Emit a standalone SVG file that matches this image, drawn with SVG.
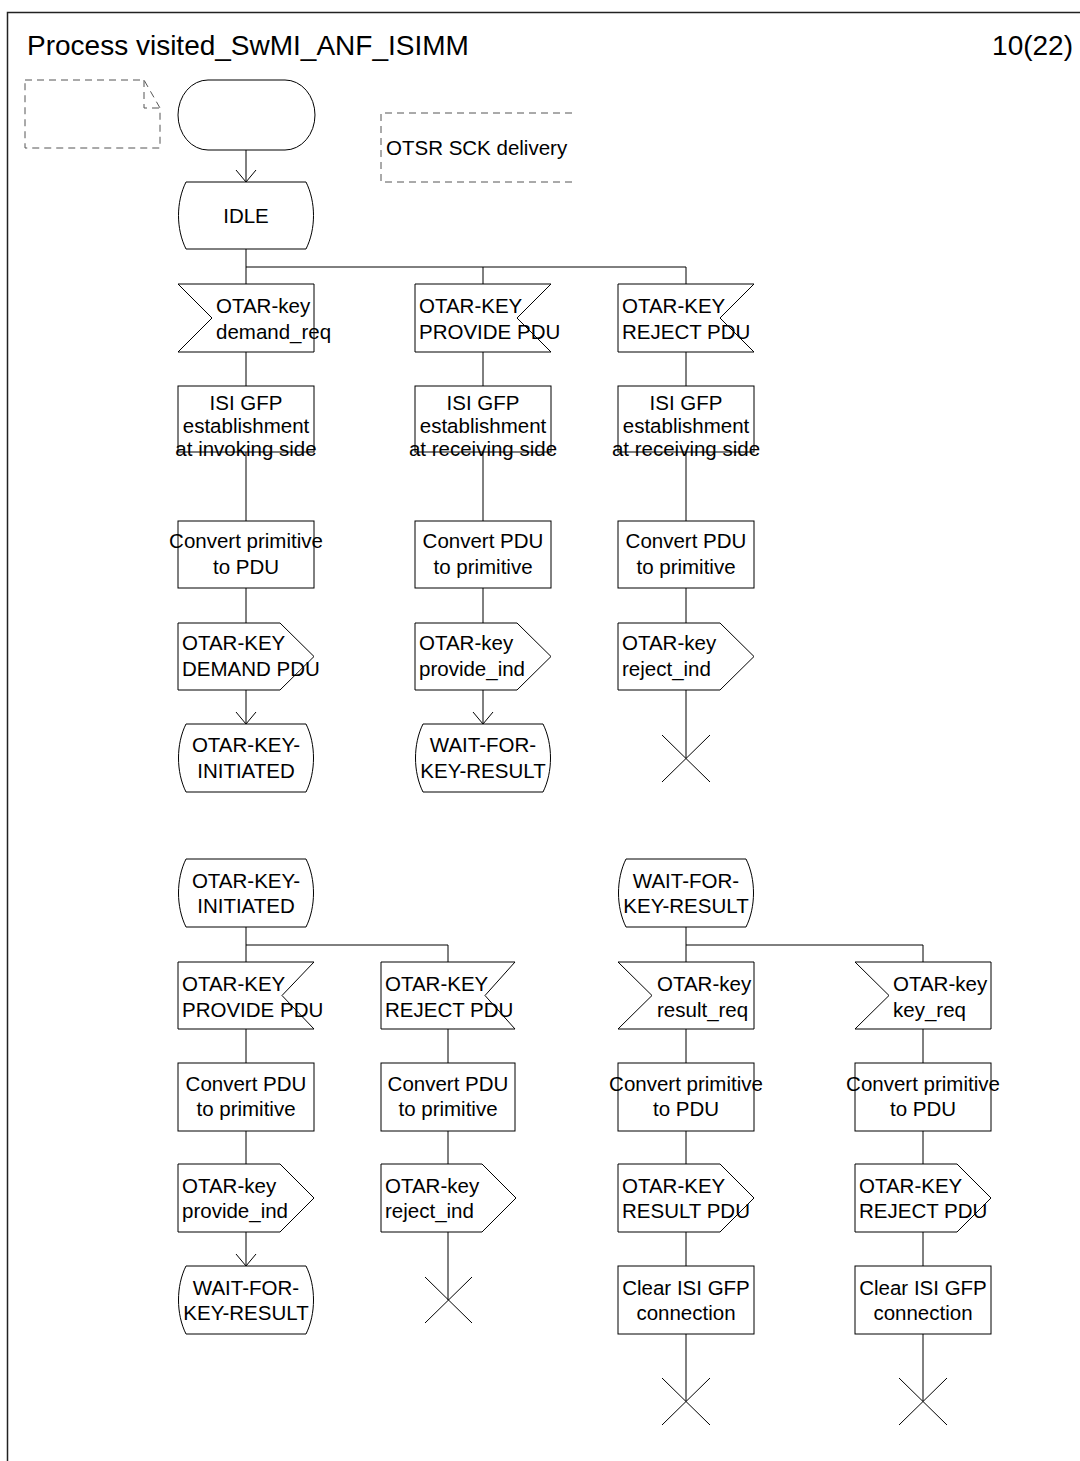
<svg xmlns="http://www.w3.org/2000/svg" width="1080" height="1461" viewBox="0 0 1080 1461">
<style>
.s{fill:#fff;stroke:#000;stroke-width:1}
.t{font-family:"Liberation Sans",Arial,sans-serif;font-size:20.5px;fill:#000}
.c{text-anchor:middle}
.d{fill:none;stroke:#555;stroke-width:1;stroke-dasharray:7 5}
.ln{fill:none;stroke:#000;stroke-width:1}
.ti{font-family:"Liberation Sans",Arial,sans-serif;font-size:28px;fill:#000}
</style>
<defs>
<marker id="arr" viewBox="0 0 12 20" refX="12" refY="10" markerWidth="12" markerHeight="20" markerUnits="userSpaceOnUse" orient="auto" overflow="visible">
<path d="M0,0 L12,10 L0,20" fill="none" stroke="#000" stroke-width="1"/>
</marker>
</defs>
<rect width="1080" height="1461" fill="#fff"/>
<g id="frame">
<path d="M7.5,1461 V12.5 H1080" fill="none" stroke="#222" stroke-width="1.5"/>
<text class="ti" x="27" y="55">Process visited_SwMI_ANF_ISIMM</text>
<text class="ti" x="1073" y="55" text-anchor="end">10(22)</text>
</g>
<g id="note">
<path class="d" d="M25,80 H144 L160,108 V148 H25 Z M144,80 V108 H160"/>
</g>
<g id="comment">
<path class="d" d="M572,113 H381 V182 H572"/>
<text class="t" x="386" y="155">OTSR SCK delivery</text>
</g>
<g id="connectors">
<path class="ln" d="M246,150 V182" marker-end="url(#arr)"/>
<path class="ln" d="M246,249 V284 M246,267 H686 V284 M483,267 V284"/>
<path class="ln" d="M246,352 V386 M483,352 V386 M686,352 V386"/>
<path class="ln" d="M246,452 V521 M483,452 V521 M686,452 V521"/>
<path class="ln" d="M246,588 V623 M483,588 V623 M686,588 V623"/>
<path class="ln" d="M246,690 V724" marker-end="url(#arr)"/>
<path class="ln" d="M483,690 V724" marker-end="url(#arr)"/>
<path class="ln" d="M686,690 V758"/>
<path class="ln" d="M246,927 V962 M246,945 H448 V962 M686,927 V962 M686,945 H923 V962"/>
<path class="ln" d="M246,1029 V1063 M448,1029 V1063 M686,1029 V1063 M923,1029 V1063"/>
<path class="ln" d="M246,1131 V1164 M448,1131 V1164 M686,1131 V1164 M923,1131 V1164"/>
<path class="ln" d="M246,1232 V1266" marker-end="url(#arr)"/>
<path class="ln" d="M448,1232 V1300 M686,1232 V1266 M923,1232 V1266"/>
<path class="ln" d="M686,1334 V1401 M923,1334 V1401"/>
</g>
<g id="start">
<path class="s" d="M208,80 H285 A30,35 0 0 1 285,150 H208 A30,35 0 0 1 208,80 Z"/>
</g>
<g id="idle">
<path class="s" d="M186,182 H306 C316,202 316,229 306,249 H186 C176,229 176,202 186,182 Z"/>
<text class="t c" x="246" y="223">IDLE</text>
</g>
<g id="in_demand_req">
<polygon class="s" points="178,284 314,284 314,352 178,352 212,318"/>
<text class="t" x="216" y="313">OTAR-key</text>
<text class="t" x="216" y="339">demand_req</text>
</g>
<g id="in_provide_pdu1">
<polygon class="s" points="415,284 551,284 517,318 551,352 415,352"/>
<text class="t" x="419" y="313">OTAR-KEY</text>
<text class="t" x="419" y="339">PROVIDE PDU</text>
</g>
<g id="in_reject_pdu1">
<polygon class="s" points="618,284 754,284 720,318 754,352 618,352"/>
<text class="t" x="622" y="313">OTAR-KEY</text>
<text class="t" x="622" y="339">REJECT PDU</text>
</g>
<g id="task_isi1">
<rect class="s" x="178" y="386" width="136" height="66"/>
<text class="t c" x="246" y="410">ISI GFP</text>
<text class="t c" x="246" y="433">establishment</text>
<text class="t c" x="246" y="456">at invoking side</text>
</g>
<g id="task_isi2">
<rect class="s" x="415" y="386" width="136" height="66"/>
<text class="t c" x="483" y="410">ISI GFP</text>
<text class="t c" x="483" y="433">establishment</text>
<text class="t c" x="483" y="456">at receiving side</text>
</g>
<g id="task_isi3">
<rect class="s" x="618" y="386" width="136" height="66"/>
<text class="t c" x="686" y="410">ISI GFP</text>
<text class="t c" x="686" y="433">establishment</text>
<text class="t c" x="686" y="456">at receiving side</text>
</g>
<g id="conv1">
<rect class="s" x="178" y="521" width="136" height="67"/>
<text class="t c" x="246" y="548">Convert primitive</text>
<text class="t c" x="246" y="574">to PDU</text>
</g>
<g id="conv2">
<rect class="s" x="415" y="521" width="136" height="67"/>
<text class="t c" x="483" y="548">Convert PDU</text>
<text class="t c" x="483" y="574">to primitive</text>
</g>
<g id="conv3">
<rect class="s" x="618" y="521" width="136" height="67"/>
<text class="t c" x="686" y="548">Convert PDU</text>
<text class="t c" x="686" y="574">to primitive</text>
</g>
<g id="out_demand_pdu">
<polygon class="s" points="178,623 280,623 314,656.5 280,690 178,690"/>
<text class="t" x="182" y="650">OTAR-KEY</text>
<text class="t" x="182" y="676">DEMAND PDU</text>
</g>
<g id="out_provide_ind1">
<polygon class="s" points="415,623 517,623 551,656.5 517,690 415,690"/>
<text class="t" x="419" y="650">OTAR-key</text>
<text class="t" x="419" y="676">provide_ind</text>
</g>
<g id="out_reject_ind1">
<polygon class="s" points="618,623 720,623 754,656.5 720,690 618,690"/>
<text class="t" x="622" y="650">OTAR-key</text>
<text class="t" x="622" y="676">reject_ind</text>
</g>
<g id="state_initiated1">
<path class="s" d="M186,724 H306 C316,744 316,772 306,792 H186 C176,772 176,744 186,724 Z"/>
<text class="t c" x="246" y="752">OTAR-KEY-</text>
<text class="t c" x="246" y="778">INITIATED</text>
</g>
<g id="state_wait1">
<path class="s" d="M423,724 H543 C553,744 553,772 543,792 H423 C413,772 413,744 423,724 Z"/>
<text class="t c" x="483" y="752">WAIT-FOR-</text>
<text class="t c" x="483" y="778">KEY-RESULT</text>
</g>
<g id="stop1">
<path class="ln" d="M662,735 L710,782 M710,735 L662,782"/>
</g>
<g id="state_initiated2">
<path class="s" d="M186,859 H306 C316,879 316,907 306,927 H186 C176,907 176,879 186,859 Z"/>
<text class="t c" x="246" y="888">OTAR-KEY-</text>
<text class="t c" x="246" y="913">INITIATED</text>
</g>
<g id="state_wait2">
<path class="s" d="M626,859 H746 C756,879 756,907 746,927 H626 C616,907 616,879 626,859 Z"/>
<text class="t c" x="686" y="888">WAIT-FOR-</text>
<text class="t c" x="686" y="913">KEY-RESULT</text>
</g>
<g id="in_provide_pdu2">
<polygon class="s" points="178,962 314,962 282,995.5 314,1029 178,1029"/>
<text class="t" x="182" y="991">OTAR-KEY</text>
<text class="t" x="182" y="1017">PROVIDE PDU</text>
</g>
<g id="in_reject_pdu2">
<polygon class="s" points="381,962 515,962 485,995.5 515,1029 381,1029"/>
<text class="t" x="385" y="991">OTAR-KEY</text>
<text class="t" x="385" y="1017">REJECT PDU</text>
</g>
<g id="in_result_req">
<polygon class="s" points="618,962 754,962 754,1029 618,1029 652,995.5"/>
<text class="t" x="657" y="991">OTAR-key</text>
<text class="t" x="657" y="1017">result_req</text>
</g>
<g id="in_key_req">
<polygon class="s" points="855,962 991,962 991,1029 855,1029 889,995.5"/>
<text class="t" x="893" y="991">OTAR-key</text>
<text class="t" x="893" y="1017">key_req</text>
</g>
<g id="conv4">
<rect class="s" x="178" y="1063" width="136" height="68"/>
<text class="t c" x="246" y="1091">Convert PDU</text>
<text class="t c" x="246" y="1116">to primitive</text>
</g>
<g id="conv5">
<rect class="s" x="381" y="1063" width="134" height="68"/>
<text class="t c" x="448" y="1091">Convert PDU</text>
<text class="t c" x="448" y="1116">to primitive</text>
</g>
<g id="conv6">
<rect class="s" x="618" y="1063" width="136" height="68"/>
<text class="t c" x="686" y="1091">Convert primitive</text>
<text class="t c" x="686" y="1116">to PDU</text>
</g>
<g id="conv7">
<rect class="s" x="855" y="1063" width="136" height="68"/>
<text class="t c" x="923" y="1091">Convert primitive</text>
<text class="t c" x="923" y="1116">to PDU</text>
</g>
<g id="out_provide_ind2">
<polygon class="s" points="178,1164 280,1164 314,1198 280,1232 178,1232"/>
<text class="t" x="182" y="1193">OTAR-key</text>
<text class="t" x="182" y="1218">provide_ind</text>
</g>
<g id="out_reject_ind2">
<polygon class="s" points="381,1164 482,1164 516,1198 482,1232 381,1232"/>
<text class="t" x="385" y="1193">OTAR-key</text>
<text class="t" x="385" y="1218">reject_ind</text>
</g>
<g id="out_result_pdu">
<polygon class="s" points="618,1164 720,1164 754,1198 720,1232 618,1232"/>
<text class="t" x="622" y="1193">OTAR-KEY</text>
<text class="t" x="622" y="1218">RESULT PDU</text>
</g>
<g id="out_reject_pdu">
<polygon class="s" points="855,1164 957,1164 991,1198 957,1232 855,1232"/>
<text class="t" x="859" y="1193">OTAR-KEY</text>
<text class="t" x="859" y="1218">REJECT PDU</text>
</g>
<g id="state_wait3">
<path class="s" d="M186,1266 H306 C316,1286 316,1314 306,1334 H186 C176,1314 176,1286 186,1266 Z"/>
<text class="t c" x="246" y="1295">WAIT-FOR-</text>
<text class="t c" x="246" y="1320">KEY-RESULT</text>
</g>
<g id="stop2">
<path class="ln" d="M425,1277 L472,1323 M472,1277 L425,1323"/>
</g>
<g id="clear1">
<rect class="s" x="618" y="1266" width="136" height="68"/>
<text class="t c" x="686" y="1295">Clear ISI GFP</text>
<text class="t c" x="686" y="1320">connection</text>
</g>
<g id="clear2">
<rect class="s" x="855" y="1266" width="136" height="68"/>
<text class="t c" x="923" y="1295">Clear ISI GFP</text>
<text class="t c" x="923" y="1320">connection</text>
</g>
<g id="stop3">
<path class="ln" d="M662,1378 L710,1425 M710,1378 L662,1425"/>
</g>
<g id="stop4">
<path class="ln" d="M899,1378 L947,1425 M947,1378 L899,1425"/>
</g>
</svg>
